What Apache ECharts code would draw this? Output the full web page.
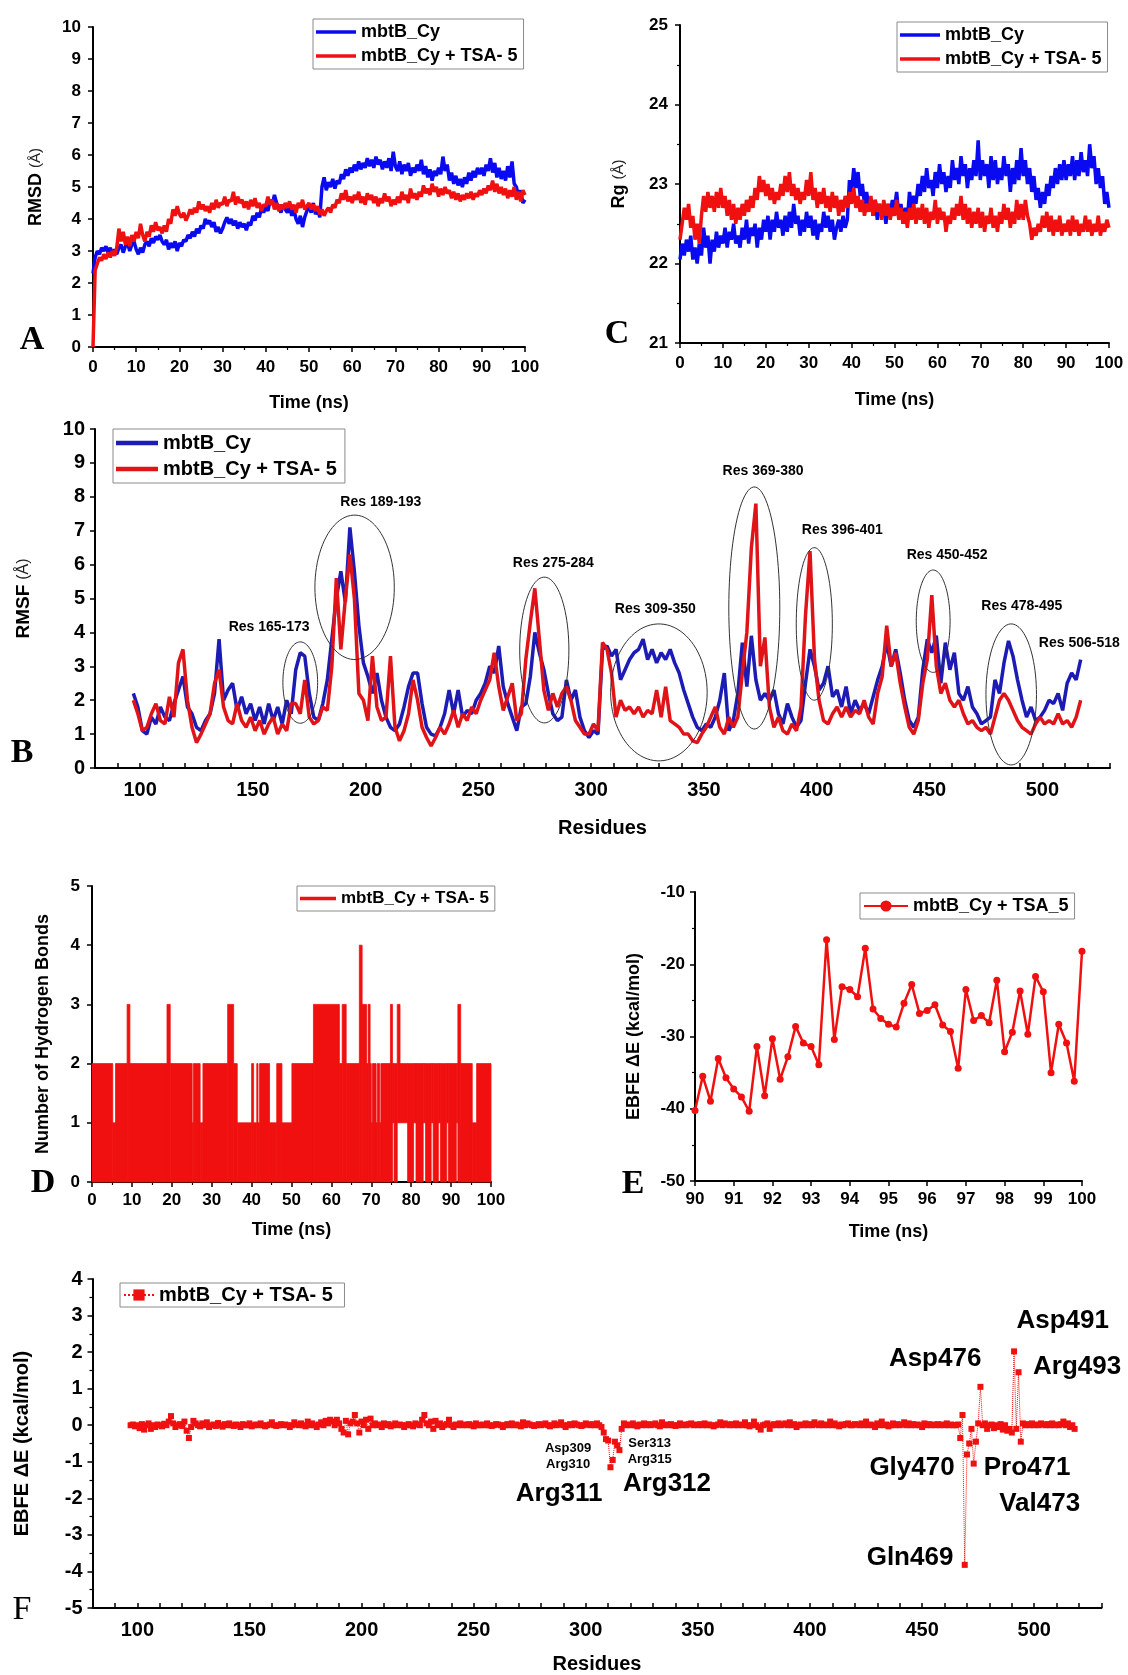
<!DOCTYPE html>
<html><head><meta charset="utf-8">
<script src="https://cdn.jsdelivr.net/npm/echarts@6/dist/echarts.min.js"></script>
<style>html,body{margin:0;padding:0;background:#fff}#c{width:1128px;height:1675px}</style>
</head><body><div id="c"></div>
<script>
// ---------- Panel A: RMSD (time 0..100 ns, step 0.5) ----------
const timeStep = 0.5;
const rmsdApo = [
2.3,2.8,3.0,2.9,3.1,3.0,3.15,2.95,3.1,2.9,
3.05,2.9,3.1,3.2,2.95,3.15,3.25,3.0,3.2,3.3,
3.05,2.9,3.1,2.95,3.2,3.3,3.15,3.4,3.25,3.45,
3.35,3.5,3.3,3.2,3.35,3.05,3.25,3.1,3.3,3.0,
3.25,3.15,3.35,3.3,3.5,3.4,3.6,3.45,3.7,3.55,
3.8,3.7,4.0,3.85,3.95,3.75,3.9,3.6,3.75,3.55,
3.7,3.9,4.05,3.85,4.0,3.8,3.95,3.7,3.9,3.75,
3.85,3.65,3.9,3.8,4.1,3.95,4.2,4.05,4.35,4.2,
4.4,4.25,4.6,4.45,4.75,4.5,4.35,4.2,4.45,4.3,
4.2,4.4,4.1,4.3,4.0,3.85,4.1,3.75,4.05,4.25,
4.4,4.2,4.5,4.15,4.3,4.05,5.0,5.3,4.9,5.15,
5.0,5.25,4.95,5.2,5.1,5.4,5.25,5.55,5.35,5.6,
5.45,5.7,5.5,5.8,5.55,5.75,5.6,5.9,5.65,5.85,
5.6,5.95,5.7,5.85,5.55,5.8,5.6,5.9,5.5,6.1,
5.65,5.5,5.8,5.4,5.7,5.5,5.75,5.35,5.6,5.45,
5.7,5.5,5.85,5.4,5.65,5.3,5.55,5.2,5.5,5.35,
5.6,5.4,5.95,5.5,5.7,5.2,5.45,5.1,5.35,5.05,
5.25,5.0,5.3,5.1,5.45,5.2,5.5,5.3,5.6,5.4,
5.6,5.35,5.7,5.5,5.9,5.45,5.75,5.3,5.6,5.25,
5.5,5.2,5.65,5.3,5.8,5.1,5.0,4.7,4.9,4.5,
4.6];
const rmsdHolo = [
0,2.4,2.6,2.8,2.7,2.9,2.75,2.95,2.8,3.0,
2.85,3.1,3.7,3.3,3.6,3.2,3.45,3.15,3.5,3.3,
3.6,3.4,3.85,3.5,3.3,3.6,3.45,3.8,3.6,3.9,
3.65,3.75,3.55,3.8,3.6,4.0,3.85,4.3,4.1,4.4,
4.15,4.05,4.2,3.95,4.1,4.3,4.15,4.35,4.2,4.55,
4.3,4.45,4.25,4.4,4.2,4.5,4.3,4.6,4.35,4.5,
4.45,4.7,4.4,4.6,4.55,4.85,4.45,4.7,4.5,4.6,
4.35,4.55,4.3,4.6,4.4,4.65,4.35,4.5,4.25,4.45,
4.4,4.7,4.45,4.6,4.3,4.5,4.25,4.45,4.3,4.5,
4.35,4.55,4.3,4.45,4.2,4.5,4.35,4.6,4.3,4.4,
4.5,4.3,4.45,4.25,4.4,4.15,4.3,4.1,4.25,4.35,
4.2,4.45,4.35,4.6,4.5,4.8,4.6,4.9,4.55,4.7,
4.5,4.75,4.6,4.85,4.5,4.7,4.45,4.8,4.6,4.75,
4.5,4.7,4.4,4.65,4.5,4.8,4.55,4.7,4.4,4.6,
4.45,4.7,4.5,4.85,4.6,4.75,4.5,4.95,4.65,4.8,
4.6,4.85,4.7,5.05,4.8,4.95,4.75,5.1,4.85,5.0,
4.7,4.95,4.75,5.0,4.8,4.9,4.65,4.85,4.6,4.8,
4.55,4.75,4.6,4.8,4.65,4.85,4.6,4.8,4.7,4.9,
4.75,4.95,4.8,5.05,4.9,5.2,4.85,5.1,4.8,5.0,
4.75,4.95,4.65,4.9,4.7,5.0,4.6,4.85,4.55,4.9,
4.75];

// ---------- Panel C: Rg ----------
const rgApo = [
22.05,22.25,22.1,22.3,22.15,22.35,22.05,22.2,22.0,22.25,
22.1,22.45,22.2,22.35,22.0,22.3,22.15,22.4,22.2,22.35,
22.25,22.45,22.2,22.4,22.3,22.5,22.25,22.35,22.2,22.45,
22.3,22.55,22.25,22.45,22.35,22.5,22.2,22.45,22.3,22.55,
22.4,22.6,22.3,22.55,22.4,22.65,22.45,22.55,22.35,22.6,
22.4,22.65,22.45,22.75,22.5,22.6,22.35,22.55,22.4,22.65,
22.45,22.6,22.35,22.55,22.3,22.5,22.4,22.65,22.45,22.6,
22.4,22.55,22.3,22.45,22.55,22.4,22.6,22.45,22.55,23.05,
22.9,23.2,22.95,23.15,22.85,23.0,22.75,22.9,22.7,22.8,
22.6,22.8,22.55,22.75,22.6,22.7,22.5,22.75,22.6,22.8,
22.7,22.9,22.6,22.75,22.5,22.7,22.55,22.9,22.7,22.85,
22.75,23.0,22.85,23.1,22.9,23.2,22.95,23.05,22.85,23.15,
22.95,23.25,23.0,23.15,22.9,23.1,22.95,23.3,23.05,23.2,
23.0,23.35,23.1,23.25,22.95,23.2,23.05,23.3,23.1,23.55,
23.05,23.3,23.1,23.25,22.95,23.35,23.05,23.3,23.0,23.2,
23.05,23.35,23.1,23.25,22.9,23.2,23.0,23.3,23.05,23.45,
23.1,23.3,23.0,23.2,22.9,23.1,22.8,22.95,22.7,22.9,
22.75,23.0,22.85,23.1,22.95,23.2,23.0,23.25,23.05,23.3,
23.05,23.25,23.1,23.35,23.05,23.3,23.1,23.4,23.15,23.3,
23.1,23.5,23.2,23.35,23.0,23.2,22.95,23.1,22.75,22.9,
22.7];
const rgHolo = [
22.3,22.5,22.7,22.55,22.75,22.45,22.6,22.3,22.5,22.25,
22.6,22.85,22.65,22.9,22.7,22.85,22.65,22.9,22.7,22.95,
22.7,22.85,22.6,22.8,22.55,22.75,22.5,22.7,22.55,22.75,
22.6,22.8,22.65,22.85,22.7,22.95,22.8,23.1,22.9,23.05,
22.85,23.0,22.8,22.95,22.75,22.9,22.8,23.0,22.85,23.1,
22.9,23.15,22.85,23.0,22.8,22.95,22.75,22.9,22.8,23.05,
22.85,23.15,22.8,22.95,22.7,22.9,22.75,22.95,22.7,22.85,
22.65,22.9,22.7,22.85,22.6,22.8,22.65,22.85,22.7,22.9,
22.75,22.95,22.7,22.85,22.65,22.8,22.6,22.75,22.65,22.85,
22.6,22.8,22.65,22.75,22.55,22.8,22.6,22.75,22.55,22.7,
22.6,22.8,22.55,22.7,22.5,22.65,22.45,22.7,22.55,22.75,
22.5,22.7,22.55,22.75,22.5,22.7,22.45,22.65,22.55,22.8,
22.5,22.7,22.55,22.65,22.4,22.6,22.5,22.7,22.55,22.75,
22.6,22.85,22.55,22.75,22.5,22.7,22.45,22.65,22.5,22.7,
22.45,22.65,22.4,22.6,22.5,22.7,22.45,22.6,22.4,22.65,
22.5,22.75,22.55,22.7,22.45,22.65,22.5,22.8,22.55,22.75,
22.55,22.8,22.6,22.5,22.3,22.45,22.35,22.5,22.4,22.6,
22.45,22.65,22.4,22.6,22.35,22.55,22.4,22.6,22.35,22.5,
22.4,22.55,22.35,22.6,22.4,22.55,22.35,22.5,22.4,22.6,
22.4,22.55,22.35,22.5,22.4,22.6,22.35,22.5,22.4,22.55,
22.45];

// ---------- Panel B: RMSF (residues 97..517, step 2) ----------
const resStart = 97, resStep = 2;
const rmsfApo = [
2.2,1.8,1.1,1.0,1.5,1.3,1.8,1.5,1.4,1.9,
2.3,2.7,1.8,1.6,1.2,1.1,1.4,1.6,2.2,3.8,
2.0,2.3,2.5,1.7,2.1,1.6,1.9,1.4,1.8,1.3,
1.9,1.4,1.8,1.3,2.0,1.6,2.9,3.4,3.3,2.2,
1.5,1.4,1.9,2.6,3.8,5.0,5.8,4.9,7.1,5.8,
4.2,3.1,2.7,2.2,2.8,2.0,1.5,1.2,1.1,1.3,
1.8,2.4,2.8,2.8,1.9,1.2,1.0,0.95,1.2,1.6,
2.3,1.6,2.3,1.5,1.7,1.6,2.0,2.2,2.5,3.0,
2.8,3.6,2.4,1.9,1.5,1.1,1.8,1.9,2.7,4.0,
3.4,2.9,2.2,1.6,1.4,1.5,2.6,2.0,2.3,1.5,
1.1,0.9,1.1,1.0,3.5,3.6,3.3,3.5,2.6,2.9,
3.2,3.4,3.5,3.8,3.2,3.5,3.1,3.4,3.2,3.5,
3.1,2.8,2.3,1.9,1.5,1.2,1.1,1.3,1.2,1.5,
2.0,2.8,1.1,1.4,2.2,3.7,2.4,3.9,2.6,2.0,
2.2,2.0,2.3,1.6,1.3,1.9,1.5,1.2,1.4,2.5,
3.5,3.0,2.3,2.5,3.0,2.1,2.3,1.8,2.4,1.6,
2.0,1.7,1.9,1.6,2.1,2.6,3.0,3.7,3.0,3.5,
2.8,2.0,1.4,1.2,1.5,2.9,3.8,3.4,3.9,2.5,
3.7,2.9,3.4,2.2,2.0,2.4,1.8,1.6,1.3,1.4,
1.5,2.6,2.2,3.1,3.75,3.3,2.6,2.0,1.5,1.8,
1.4,1.5,1.7,2.0,1.9,2.2,1.7,2.5,2.8,2.6,
3.2];
const rmsfHolo = [
2.0,1.6,1.1,1.2,1.6,1.9,1.4,1.3,2.1,1.5,
3.1,3.5,2.0,1.2,0.75,1.0,1.3,1.6,2.5,2.9,
1.8,1.4,1.3,1.9,1.4,1.2,1.5,1.1,1.4,1.0,
1.3,1.5,1.0,1.3,1.1,1.9,1.9,1.6,2.6,1.5,
1.3,1.4,1.8,1.7,3.0,5.6,3.5,5.0,6.3,5.0,
2.2,2.0,1.4,3.3,1.8,1.4,1.5,3.3,1.2,0.8,
1.1,1.6,2.6,2.0,1.2,0.9,0.65,0.9,1.2,1.0,
1.3,1.7,1.2,1.6,1.4,1.8,1.6,2.0,2.3,2.6,
3.4,2.4,1.7,2.1,2.5,1.4,1.6,3.2,4.3,5.3,
3.8,2.3,1.7,2.2,1.8,2.2,2.4,2.0,1.4,1.2,
1.0,1.0,1.3,1.1,3.7,3.5,2.8,1.5,2.0,1.7,
1.8,1.6,1.8,1.5,1.7,1.6,2.3,1.5,2.4,1.4,
1.3,1.2,1.0,1.0,0.8,0.75,1.0,1.2,1.5,1.8,
1.2,1.0,1.5,1.2,1.5,2.8,4.0,6.5,7.8,3.0,
3.85,1.8,1.2,1.5,1.1,1.0,1.3,1.1,1.8,4.5,
6.4,3.2,2.0,1.4,1.3,1.6,1.8,1.5,1.8,1.5,
1.7,1.6,2.0,1.5,1.3,2.2,2.7,4.2,3.0,3.4,
2.5,1.8,1.2,1.0,1.4,2.5,3.2,5.1,3.0,2.2,
2.5,2.0,1.8,2.0,1.6,1.3,1.4,1.2,1.1,1.2,
1.0,1.5,2.0,2.2,2.0,1.7,1.4,1.2,1.1,1.0,
1.3,1.5,1.3,1.4,1.3,1.6,1.3,1.4,1.2,1.5,
2.0];
// annotations (data coordinates)
const regionLabels = ['Res 165-173','Res 189-193','Res 275-284','Res 309-350','Res 369-380','Res 396-401','Res 450-452','Res 478-495','Res 506-518'];
const regionLabelX = [157.2,206.7,283.2,328.4,376.2,411.3,457.8,490.9,516.4];
const regionLabelY = [4.16,7.85,6.05,4.69,8.76,7.02,6.28,4.76,3.67];
const ellipseCx = [171,195.1,279.2,330,372.3,398.9,451.6,486.2];
const ellipseCy = [2.52,5.33,3.48,2.23,4.72,4.25,4.33,2.17];
const ellipseRx = [7.7,17.6,10.9,21.4,11.3,8,7.5,11.2];
const ellipseRy = [1.2,2.13,2.15,2.02,3.57,2.25,1.51,2.08];

// ---------- Panel D: hydrogen bonds (segments: start, end, low, high) ----------
const hbStart = [0,5.2,5.9,8.8,9.5,18.8,19.6,25.1,25.4,27.1,27.8,34.0,35.5,36.4,40.0,40.5,41.3,41.6,42.0,44.5,46.3,47.6,50.1,55.5,62.0,62.7,63.7,67.0,67.7,68.8,69.2,69.7,70.0,70.3,71.2,71.5,72.1,72.4,74.8,75.3,75.7,76.5,77.2,79.1,80.6,81.2,83.0,83.6,85.0,85.5,86.8,87.3,88.9,89.3,91.3,91.7,92.4,95.3,96.4];
const hbEnd   = [5.2,5.9,8.8,9.5,18.8,19.6,25.1,25.4,27.1,27.8,34.0,35.5,36.4,40.0,40.5,41.3,41.6,42.0,44.5,46.3,47.6,50.1,55.5,62.0,62.7,63.7,67.0,67.7,68.8,69.2,69.7,70.0,70.3,71.2,71.5,72.1,72.4,74.8,75.3,75.7,76.5,77.2,79.1,80.6,81.2,83.0,83.6,85.0,85.5,86.8,87.3,88.9,89.3,91.3,91.7,92.4,95.3,96.4,100];
const hbLow   = [0,0,0,0,0,0,0,0,0,0,0,0,0,0,0,0,0,0,0,0,0,0,0,0,0,0,0,0,0,0,0,0,0,0,0,0,0,0,0,1,0,1,1,0,1,0,1,0,1,0,1,0,1,0,1,0,0,0,0];
const hbHigh  = [2,1,2,3,2,3,2,1,2,1,2,3,2,1,2,1,2,1,2,1,2,1,2,3,2,3,2,4,3,2,3,2,1,2,1,2,1,2,3,2,2,3,2,2,2,2,2,2,2,2,2,2,2,2,2,3,2,1,2];

// ---------- Panel E: EBFE vs time (90..100 ns, step 0.2) ----------
const eStart = 90, eStep = 0.2;
const ebfeTime = [
-40.25,-35.5,-38.96,-33.05,-35.7,-37.25,-38.36,-40.35,-31.4,-38.2,
-30.3,-35.9,-32.8,-28.6,-30.9,-31.4,-33.9,-16.6,-30.4,-23.1,
-23.5,-24.5,-17.8,-26.2,-27.5,-28.3,-28.7,-25.4,-22.8,-26.8,
-26.4,-25.6,-28.4,-29.3,-34.4,-23.5,-27.8,-27.1,-28.1,-22.2,
-32.1,-29.4,-23.7,-29.7,-21.7,-23.8,-35.0,-28.3,-30.9,-36.2,
-18.2];

// ---------- Panel F: per-residue EBFE (residues 97..518) ----------
const decompStart = 97;
const decomp = [
0,0.02,-0.03,0,-0.08,0.03,-0.12,0,0.05,-0.1,
0,-0.05,0.02,0,-0.03,0.04,0,0.1,0.25,0.05,
-0.05,0,0.03,-0.02,0.1,-0.15,-0.35,-0.05,0.12,0.05,
0,-0.03,0.05,0,0.08,-0.05,0,0.02,-0.02,0.06,
0,-0.04,0.03,0,0.05,0,-0.02,0.02,0,-0.05,
0.03,0,0,0.05,-0.03,0,0.02,0,0.05,0,
-0.03,0,0.02,0.08,0,-0.02,0,0.03,0,0.02,
0,-0.05,0,0.08,0.02,0,0.05,0,-0.03,0.1,
0,0.05,0,-0.05,0.02,0.08,0,0.12,0.05,0.15,
0.1,0,0.15,0.05,-0.1,-0.2,0.12,-0.25,0.05,0.1,
0.28,0.05,-0.2,0.1,0,0.15,-0.1,0.18,0,0.05,
0,0.02,-0.05,0.05,0,0.03,-0.03,0,0.05,0,
0.02,0,-0.05,0,0.03,0,-0.03,0.05,0.02,0,
0.15,0.28,0.05,0,0.1,-0.1,0.12,0,0.05,-0.05,
0,0.03,0.15,0,-0.05,0.02,0,0.05,0,0.02,
0,0.03,0,-0.03,0.05,0,0,0.02,0,0.05,
0,-0.02,0,0.03,0.02,0,-0.05,0,0.03,0,
0.05,0,0.02,0,-0.03,0.08,0,0.05,0.02,0,
-0.02,0,0.03,0,0.02,0.05,0,-0.03,0,0.05,
0,0.02,0.08,0,-0.05,0,0.03,0,0.05,0.02,
0,-0.02,0,0.05,0.02,0,0.03,0,0.05,0,
-0.05,-0.2,-0.38,-0.42,-1.15,-0.95,-0.45,-0.55,-0.68,-0.1,
0.05,0,0.02,0,0.05,0,-0.03,0.02,0,0.05,
0,0.03,0,0.02,0.05,0,-0.03,0.08,0,0.02,
0,0.03,0,-0.02,0,0.05,0,0.02,0,0.03,
0.05,0,0.02,0,0.03,0,0.05,0,0.02,0,
-0.03,0,0.02,0.08,0,0.05,0.02,0,0.03,0,
0.05,0,0.02,0,0.08,0,-0.03,0,0.1,0,
-0.05,-0.12,0,0.02,0.05,-0.1,0,0.03,0,0.05,
0,0.02,0.05,0,0.08,0,0.03,-0.05,0,0.02,
0,0.05,0,0.03,0,0.08,0.02,0,0.05,0,
0.02,0,0.1,0,0.05,0,-0.03,0.02,0,0.03,
0.05,0,0,0.03,0.02,0,0.05,0,0.1,0,
0.02,0,-0.05,0.05,0,0.1,0,0.02,-0.03,0,
0.05,0,0.03,0,0.02,0.08,0,0.05,0,0.03,
0,0.02,0,-0.05,0.05,0,0.03,0,0.02,0,
0.03,0,0.02,0,0.05,0,0.02,0,0,0.02,
-0.35,0.28,-3.82,-0.8,-0.5,-0.1,-1.05,-0.45,0.05,1.05,
0,0.05,-0.1,0,0.02,-0.08,0,-0.05,0.03,-0.12,
0,-0.15,-0.1,-0.2,2.02,-0.1,1.45,-0.45,0.05,0,
0.03,0,0.05,0,0.02,0,0.05,0.02,0,0.03,
0,0.05,0,0.02,0,0.03,0.1,0,0.05,-0.05,
0,-0.1];
const residueLabels = ['Asp491','Arg493','Asp476','Gly470','Pro471','Val473','Gln469','Arg311','Arg312','Asp309','Arg310','Ser313','Arg315'];
const residueLabelX = [512.7,519.1,455.8,445.5,496.8,502.4,444.6,288.1,336.2,292.1,292.1,328.5,328.5];
const residueLabelY = [2.85,1.59,1.81,-1.16,-1.16,-2.14,-3.64,-1.89,-1.59,-0.64,-1.07,-0.51,-0.94];
const residueLabelBig = [1,1,1,1,1,1,1,1,1,0,0,0,0];

// ---------- styling ----------
const FONT = '"Liberation Sans", Arial, Helvetica, sans-serif';
const SERIF = '"Liberation Serif", "Times New Roman", serif';
const BLUE = '#0a0af0', RED = '#f01010';
const BLUE_B = '#1c1cb4', RED_B = '#e01418';
const APO = 'mbtB_Cy', HOLO = 'mbtB_Cy + TSA- 5';

function axis(o) {
  const fs = o.fs || 17;
  const a = {
    type: 'value', gridIndex: o.g, min: o.min, max: o.max, interval: o.interval,
    axisLine: {show: true, onZero: false, lineStyle: {color: '#000', width: 2}},
    axisTick: {show: true, length: 5, inside: !!o.tickInside, interval: 0, lineStyle: {color: '#000', width: 1.5}},
    minorTick: {show: !!o.minor, splitNumber: o.minor || 2, length: 3, lineStyle: {color: '#000', width: 1.2}},
    axisLabel: {color: '#000', fontSize: fs, fontWeight: 'bold', fontFamily: FONT, margin: o.margin || 10, interval: 0,
                showMinLabel: true, showMaxLabel: true},
    splitLine: {show: false},
    name: o.name, nameLocation: 'middle', nameGap: o.nameGap,
    nameTextStyle: Object.assign({color: '#000', fontSize: o.nfs || 18, fontWeight: 'bold', fontFamily: FONT}, o.rich ? {rich: o.rich} : {})
  };
  if (o.fmt) a.axisLabel.formatter = o.fmt;
  return a;
}
const resFmt = v => (v % 50 === 0 && v >= 100 && v <= 500) ? String(v) : '';
const richAng = (fs) => ({b: {fontSize: fs, fontWeight: 'bold', fontFamily: FONT, color: '#000'},
                          n: {fontSize: fs - 3, fontWeight: 'normal', fontFamily: FONT, color: '#222'}});

const tSeries = arr => arr.map((v, i) => [i * timeStep, v]);
const rSeries = arr => arr.map((v, i) => [resStart + i * resStep, v]);

const legendBase = {
  orient: 'vertical', borderColor: '#8a8a8a', borderWidth: 1, backgroundColor: '#fff',
  itemWidth: 40, itemHeight: 14, itemGap: 4, padding: [4, 6, 4, 3],
  textStyle: {fontSize: 18, fontWeight: 'bold', fontFamily: FONT, color: '#000'}
};
const lineIcon = {icon: 'rect', itemHeight: 3.5};

const option = {
  animation: false,
  backgroundColor: '#fff',
  grid: [
    {left: 93, top: 27, width: 432, height: 320},
    {left: 680, top: 25, width: 429, height: 318},
    {left: 95, top: 429, width: 1015, height: 339},
    {left: 92, top: 886, width: 399, height: 296},
    {left: 695, top: 892, width: 387, height: 289},
    {left: 92.5, top: 1279, width: 1009, height: 333}
  ],
  xAxis: [
    axis({g: 0, min: 0, max: 100, interval: 10, minor: 2, name: 'Time (ns)', nameGap: 47, margin: 12}),
    axis({g: 1, min: 0, max: 100, interval: 10, minor: 2, name: 'Time (ns)', nameGap: 48, margin: 12}),
    axis({g: 2, min: 80, max: 530, interval: 10, fs: 20, nfs: 20, name: 'Residues', nameGap: 50, margin: 12, fmt: resFmt, tickInside: true}),
    axis({g: 3, min: 0, max: 100, interval: 10, minor: 2, name: 'Time (ns)', nameGap: 39, margin: 10}),
    axis({g: 4, min: 90, max: 100, interval: 1, name: 'Time (ns)', nameGap: 42, margin: 10}),
    axis({g: 5, min: 80, max: 530, interval: 10, fs: 20, nfs: 20, name: 'Residues', nameGap: 46, margin: 12, fmt: resFmt, tickInside: true})
  ],
  yAxis: [
    axis({g: 0, min: 0, max: 10, interval: 1, name: '{b|RMSD} {n|(Å)}', rich: richAng(18), nameGap: 48, margin: 12}),
    axis({g: 1, min: 21, max: 25, interval: 1, minor: 2, name: '{b|Rg} {n|(Å)}', rich: richAng(18), nameGap: 52, margin: 12}),
    axis({g: 2, min: 0, max: 10, interval: 1, fs: 20, name: '{b|RMSF} {n|(Å)}', rich: richAng(19), nameGap: 62, margin: 10}),
    axis({g: 3, min: 0, max: 5, interval: 1, name: 'Number of Hydrogen Bonds', nameGap: 40, margin: 12}),
    axis({g: 4, min: -50, max: -10, interval: 10, minor: 2, name: 'EBFE ΔE (kcal/mol)', nameGap: 52, margin: 10}),
    axis({g: 5, min: -5, max: 4, interval: 1, minor: 2, fs: 20, nfs: 20, name: 'EBFE ΔE (kcal/mol)', nameGap: 60, margin: 10})
  ],
  legend: [
    Object.assign({}, legendBase, lineIcon, {left: 313, top: 19, itemGap: 6, data: [APO, HOLO]}),
    Object.assign({}, legendBase, lineIcon, {left: 897, top: 22, itemGap: 6, data: [APO, HOLO]}),
    Object.assign({}, legendBase, {left: 113, top: 429, icon: 'rect', itemHeight: 4.5, itemWidth: 42, itemGap: 6, padding: [4, 8, 4, 3],
      textStyle: {fontSize: 20, fontWeight: 'bold', fontFamily: FONT, color: '#000'},
      data: [{name: APO, itemStyle: {color: BLUE_B}},
             {name: HOLO, itemStyle: {color: RED_B}}]}),
    Object.assign({}, legendBase, lineIcon, {left: 297, top: 886, itemWidth: 36, textStyle: {fontSize: 17, fontWeight: 'bold', fontFamily: FONT, color: '#000'}, data: [HOLO]}),
    Object.assign({}, legendBase, {left: 860, top: 893, itemWidth: 44, data: ['mbtB_Cy + TSA_5']}),
    Object.assign({}, legendBase, {left: 120, top: 1283, itemWidth: 30, padding: [2, 6, 2, 3],
      textStyle: {fontSize: 20, fontWeight: 'bold', fontFamily: FONT, color: '#000'}, data: [HOLO + ' ']})
  ],
  graphic: [
    ['A', 32, 340, 'bold'], ['C', 617, 334, 'bold'], ['B', 22, 753, 'bold'],
    ['D', 43, 1183, 'bold'], ['E', 633, 1184, 'bold'], ['F', 22, 1610, 'normal']
  ].map(([t, x, y, w]) => ({type: 'text', x: x, y: y, z: 100,
      style: {text: t, font: w + ' 34px ' + SERIF, fill: '#000', align: 'center', verticalAlign: 'middle',
              textAlign: 'center', textVerticalAlign: 'middle'}})),
  series: [
    {type: 'line', name: APO, xAxisIndex: 0, yAxisIndex: 0, data: tSeries(rmsdApo), showSymbol: false, symbol: 'none',
     lineStyle: {color: BLUE, width: 3.5}, itemStyle: {color: BLUE}},
    {type: 'line', name: HOLO, xAxisIndex: 0, yAxisIndex: 0, data: tSeries(rmsdHolo), showSymbol: false, symbol: 'none',
     lineStyle: {color: RED, width: 3.5}, itemStyle: {color: RED}},
    {type: 'line', name: APO, xAxisIndex: 1, yAxisIndex: 1, data: tSeries(rgApo), showSymbol: false, symbol: 'none',
     lineStyle: {color: BLUE, width: 3.5}, itemStyle: {color: BLUE}},
    {type: 'line', name: HOLO, xAxisIndex: 1, yAxisIndex: 1, data: tSeries(rgHolo), showSymbol: false, symbol: 'none',
     lineStyle: {color: RED, width: 3.5}, itemStyle: {color: RED}},
    {type: 'line', name: APO, xAxisIndex: 2, yAxisIndex: 2, data: rSeries(rmsfApo), showSymbol: false, symbol: 'none',
     lineStyle: {color: BLUE_B, width: 3.5}, itemStyle: {color: BLUE_B}},
    {type: 'line', name: HOLO, xAxisIndex: 2, yAxisIndex: 2, data: rSeries(rmsfHolo), showSymbol: false, symbol: 'none',
     lineStyle: {color: RED_B, width: 3.5}, itemStyle: {color: RED_B}},
    {type: 'custom', xAxisIndex: 2, yAxisIndex: 2, silent: true, z: 6,
     data: ellipseCx.map((c, i) => [c, ellipseCy[i], ellipseRx[i], ellipseRy[i]]),
     renderItem: (params, api) => {
       const cx = api.value(0), cy = api.value(1), rx = api.value(2), ry = api.value(3);
       const pts = [];
       for (let k = 0; k <= 90; k++) {
         const a = k / 90 * Math.PI * 2;
         pts.push(api.coord([cx + rx * Math.cos(a), cy + ry * Math.sin(a)]));
       }
       return {type: 'polyline', shape: {points: pts}, style: {fill: null, stroke: '#333', lineWidth: 1}};
     }},
    {type: 'scatter', xAxisIndex: 2, yAxisIndex: 2, silent: true, symbolSize: 0, z: 7,
     itemStyle: {color: 'rgba(0,0,0,0)', opacity: 1},
     data: regionLabels.map((t, i) => ({name: t, value: [regionLabelX[i], regionLabelY[i]]})),
     label: {show: true, position: 'inside', formatter: '{b}', fontSize: 14, fontWeight: 'bold', fontFamily: FONT,
             color: '#000', textBorderWidth: 0, opacity: 1}},
    {type: 'custom', name: HOLO, xAxisIndex: 3, yAxisIndex: 3, silent: true,
     itemStyle: {color: RED},
     data: hbStart.map((s, i) => [s, hbEnd[i], hbLow[i], hbHigh[i]]),
     encode: {x: [0, 1], y: [2, 3]},
     renderItem: (params, api) => {
       const p0 = api.coord([api.value(0), api.value(3)]);
       const p1 = api.coord([api.value(1), api.value(2)]);
       return {type: 'rect', shape: {x: p0[0], y: p0[1], width: p1[0] - p0[0], height: p1[1] - p0[1]},
               style: {fill: RED, stroke: RED, lineWidth: 0.8}};
     }},
    {type: 'line', name: 'mbtB_Cy + TSA_5', xAxisIndex: 4, yAxisIndex: 4,
     data: ebfeTime.map((v, i) => [eStart + i * eStep, v]),
     symbol: 'circle', symbolSize: 7, showSymbol: true,
     lineStyle: {color: RED, width: 2.5}, itemStyle: {color: RED}},
    {type: 'line', name: HOLO + ' ', xAxisIndex: 5, yAxisIndex: 5,
     data: decomp.map((v, i) => [decompStart + i, v]),
     symbol: 'rect', symbolSize: 6, showSymbol: true,
     lineStyle: {color: RED, width: 1, type: 'dotted'}, itemStyle: {color: RED}},
    {type: 'scatter', xAxisIndex: 5, yAxisIndex: 5, silent: true, symbolSize: 0, z: 7,
     itemStyle: {color: 'rgba(0,0,0,0)', opacity: 1},
     data: residueLabels.map((t, i) => ({name: t, value: [residueLabelX[i], residueLabelY[i]],
       label: {fontSize: residueLabelBig[i] ? 26 : 13}})),
     label: {show: true, position: 'inside', formatter: '{b}', fontWeight: 'bold', fontFamily: FONT,
             color: '#000', textBorderWidth: 0, opacity: 1}}
  ]
};
const chart = echarts.init(document.getElementById('c'), null, {renderer: 'canvas'});
chart.setOption(option);
</script>
</body></html>
